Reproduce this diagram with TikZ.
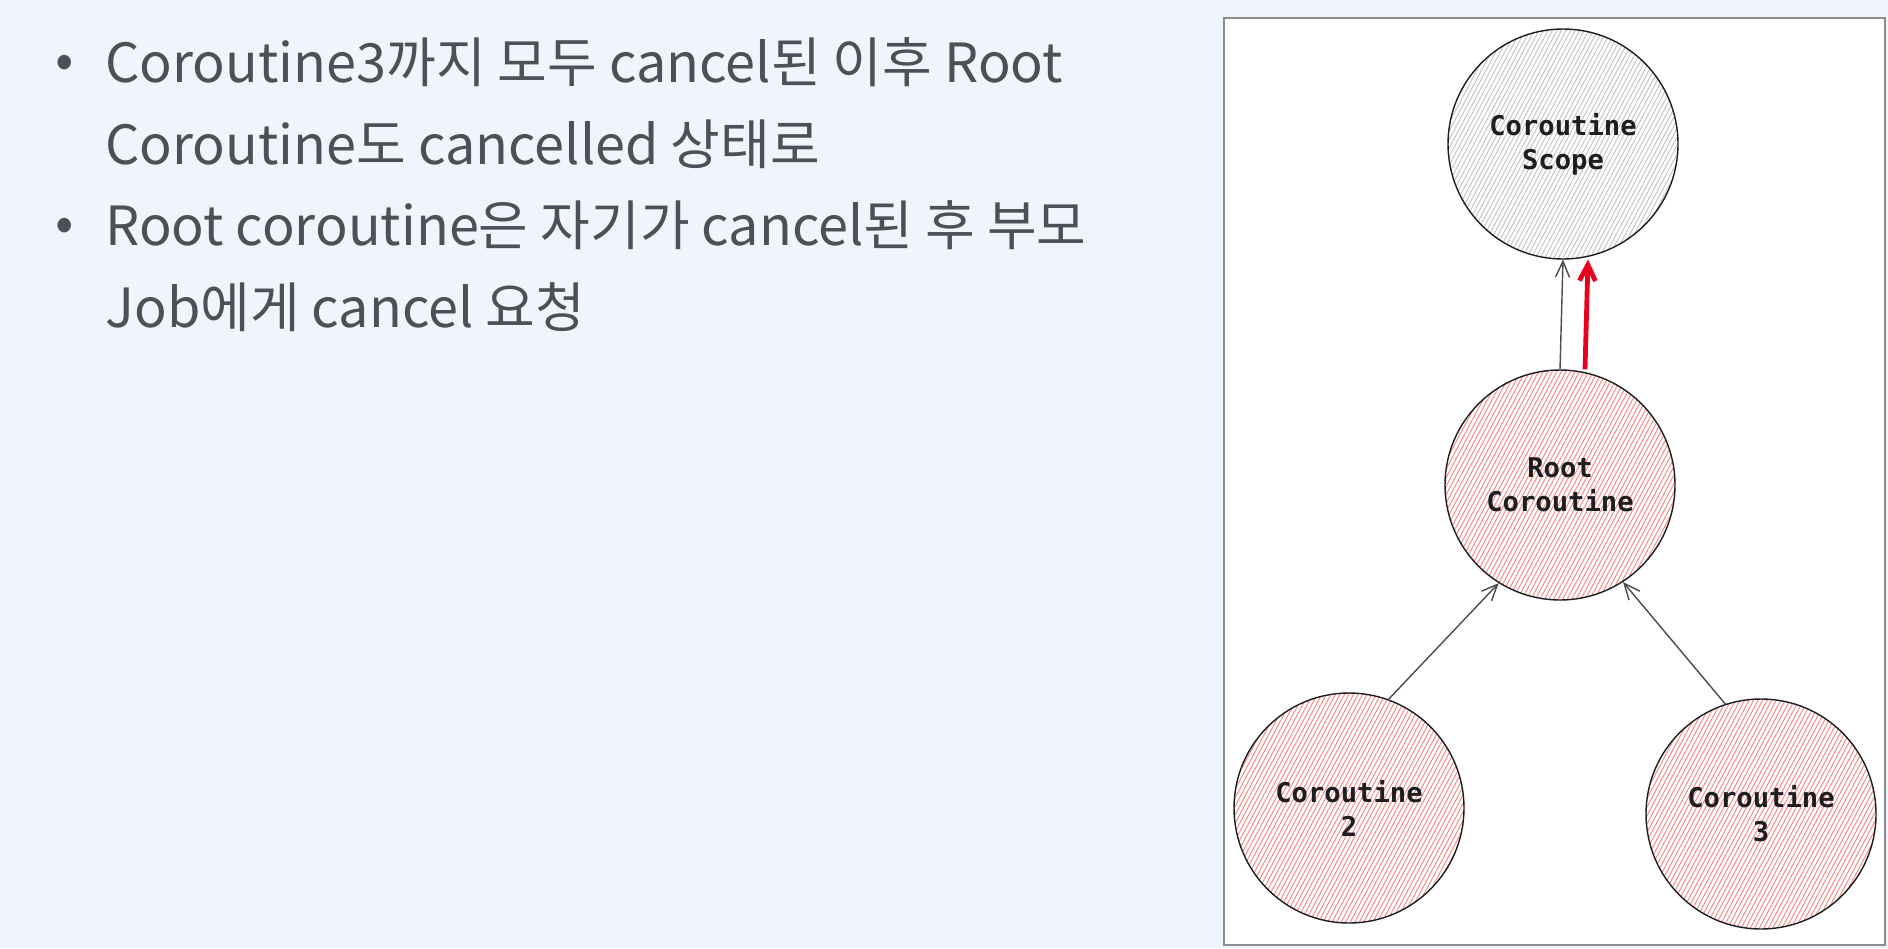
\documentclass[tikz,border=0pt]{standalone}
\usepackage{fontspec}
\setmainfont{Noto Sans CJK KR}
\newfontfamily\codefont{DejaVu Sans Mono}
\usetikzlibrary{arrows.meta,patterns.meta}
\definecolor{SlideBg}   {RGB}{240, 244, 255}
\definecolor{TextGray}  {RGB}{75,  80,  89}
\definecolor{FrameGray} {RGB}{140, 140, 140}
\definecolor{InkBlack}  {RGB}{30,  30,  30}
\definecolor{HatchRed}  {RGB}{245, 140, 140}
\definecolor{HatchGray} {RGB}{195, 198, 203}
\definecolor{CancelRed} {RGB}{232, 0,   30}

\begin{document}
\begin{tikzpicture}[
  x=0.5pt, y=-0.5pt,
  bullettext/.style={
    anchor=base west, inner sep=0pt,
    align=left, text=TextGray,
    font=\fontsize{27}{40.7}\selectfont
  },
  bulletdot/.style={
    inner sep=0pt, text=TextGray,
    font=\fontsize{27}{40.7}\selectfont
  },
  jobnode/.style={
    circle, draw=InkBlack, line width=0.7pt,
    minimum size=115pt, inner sep=0pt,
    align=center, text=InkBlack,
    font=\codefont\bfseries\fontsize{13.6}{17}\selectfont
  },
  scopejob/.style={
    jobnode,
    pattern={Lines[angle=62,distance=2pt,line width=0.5pt]},
    pattern color=HatchGray
  },
  cancelledjob/.style={
    jobnode,
    pattern={Lines[angle=62,distance=2pt,line width=0.5pt]},
    pattern color=HatchRed
  },
  arrow/.style={
    -{Straight Barb[length=8pt,width=7pt]},
    line width=0.7pt, color=InkBlack!80},
  cancelarrow/.style={
    -{Straight Barb[length=8pt,width=8pt,line width=2.4pt]},
    line width=2.4pt, color=CancelRed}
]
\useasboundingbox[fill=SlideBg] (0,0) rectangle (1888,948);

\node[bulletdot] (dot1) at (64.5,67) {•};
\node[bullettext] (line1) at (105,164)
  {Coroutine3까지 모두 cancel된 이후 Root\\Coroutine도 cancelled 상태로};
\node[bulletdot] (dot2) at (64.5,230) {•};
\node[bullettext] (line2) at (105,327)
  {Root coroutine은 자기가 cancel된 후 부모\\Job에게 cancel 요청};

\node[draw=FrameGray, fill=white, line width=0.6pt,
  minimum width=330.5pt, minimum height=463.5pt,
  inner sep=0pt] (frame) at (1554.5,481.5) {};

\node[scopejob] (scope) at (1563,144) {Coroutine\\Scope};
\node[cancelledjob] (root) at (1560,485) {Root\\Coroutine};
\node[cancelledjob] (co2) at (1349,808) {Coroutine\\2};
\node[cancelledjob] (co3) at (1761,814) {Coroutine\\3};

\draw[arrow] (root.north) -- (scope.south);
\draw[cancelarrow] ([xshift=12.5pt]root.north) --
  ([xshift=12.5pt]scope.south);
\draw[arrow] (co2.70) -- (root.238);
\draw[arrow] (co3.108) -- (root.303);
\end{tikzpicture}
\end{document}
